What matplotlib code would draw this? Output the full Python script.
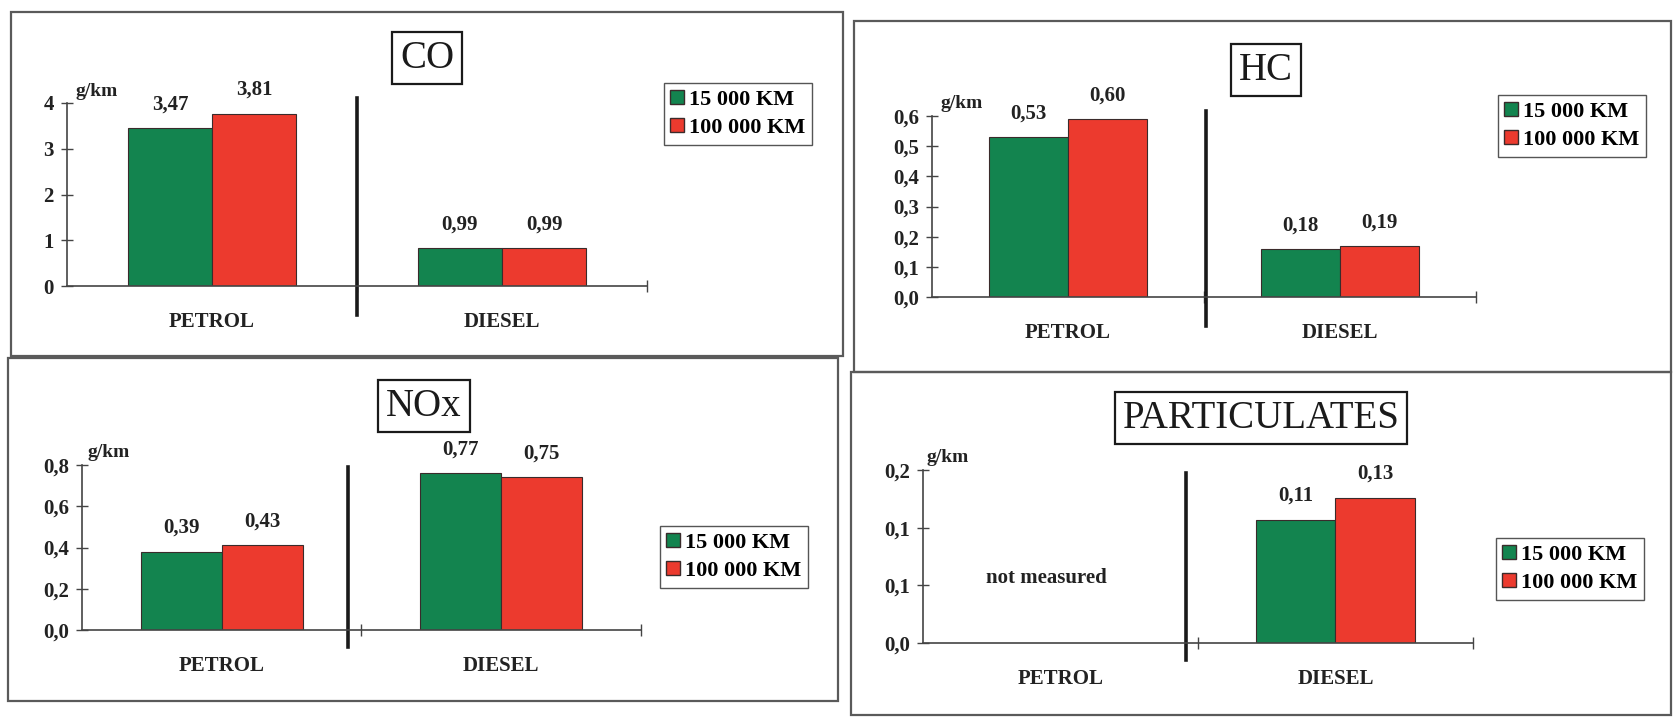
import numpy as np
import matplotlib
matplotlib.use("Agg")
import matplotlib.pyplot as plt
from matplotlib.patches import Patch, Rectangle

plt.rcParams["font.family"] = ["Liberation Serif", "DejaVu Serif"]

# --- dane ---
categories = ["PETROL", "DIESEL"]
series_names = ["15 000 KM", "100 000 KM"]

co_15k = [3.45, 0.83]
co_100k = [3.77, 0.82]
co_lab_15k = ["3,47", "0,99"]
co_lab_100k = ["3,81", "0,99"]

hc_15k = [0.53, 0.16]
hc_100k = [0.59, 0.17]
hc_lab_15k = ["0,53", "0,18"]
hc_lab_100k = ["0,60", "0,19"]

nox_15k = [0.38, 0.76]
nox_100k = [0.41, 0.74]
nox_lab_15k = ["0,39", "0,77"]
nox_lab_100k = ["0,43", "0,75"]

pm_15k = [np.nan, 0.107]
pm_100k = [np.nan, 0.126]
pm_lab_15k = [None, "0,11"]
pm_lab_100k = [None, "0,13"]

co_yticks = [0, 1, 2, 3, 4]
co_yticklabels = ["0", "1", "2", "3", "4"]
hc_yticks = [0, 0.1, 0.2, 0.3, 0.4, 0.5, 0.6]
hc_yticklabels = ["0,0", "0,1", "0,2", "0,3", "0,4", "0,5", "0,6"]
nox_yticks = [0, 0.2, 0.4, 0.6, 0.8]
nox_yticklabels = ["0,0", "0,2", "0,4", "0,6", "0,8"]
pm_yticks = [0, 0.05, 0.10, 0.15]
pm_yticklabels = ["0,0", "0,1", "0,1", "0,2"]

GREEN = "#13844f"
RED = "#ec3a2e"
EDGE = "#3a2b2b"

W, H = 1674, 721
fig = plt.figure(figsize=(W / 100, H / 100), dpi=100)


def px_rect(left, right, top, bottom):
    # piksele (od góry) -> współrzędne figury
    return [left / W, 1 - bottom / H, (right - left) / W, (bottom - top) / H]


# tło z ramkami paneli
bg = fig.add_axes([0, 0, 1, 1])
bg.set_xlim(0, W)
bg.set_ylim(H, 0)
bg.axis("off")
for (x0, y0, x1, y1) in [(11, 12, 843, 356), (854, 21, 1671, 372),
                         (8, 358, 838, 701), (851, 372, 1671, 715)]:
    bg.add_patch(Rectangle((x0, y0), x1 - x0, y1 - y0, fill=False,
                           edgecolor="#5a5a5a", linewidth=1.6))


def draw_panel(rect, title, title_xy, legend_xy, v15, v100, l15, l100,
               yticks, yticklabels, ylim, div_x, div_span, gkm_dx=30):
    ax = fig.add_axes(px_rect(*rect))
    x = np.arange(len(categories))
    w = 0.29
    ax.bar(x - w / 2, v15, w, color=GREEN, edgecolor=EDGE, linewidth=0.8)
    ax.bar(x + w / 2, v100, w, color=RED, edgecolor=EDGE, linewidth=0.8)

    # etykiety wartości nad słupkami
    for xi, v, lab in zip(x - w / 2, v15, l15):
        if lab:
            ax.annotate(lab, (xi, v), xytext=(0, 17), textcoords="offset points",
                        ha="center", va="center", fontsize=15, fontweight="bold",
                        color="#222222")
    for xi, v, lab in zip(x + w / 2, v100, l100):
        if lab:
            ax.annotate(lab, (xi, v), xytext=(0, 17), textcoords="offset points",
                        ha="center", va="center", fontsize=15, fontweight="bold",
                        color="#222222")

    ax.set_xlim(-0.5, 1.5)
    ax.set_ylim(*ylim)
    ax.set_yticks(yticks)
    ax.set_yticklabels(yticklabels, fontsize=15, fontweight="bold", color="#222222")
    ax.set_xticks(x)
    ax.set_xticklabels(categories, fontsize=15, fontweight="bold", color="#222222")
    ax.set_xticks([0.5, 1.5], minor=True)
    ax.tick_params(axis="x", which="major", length=0, pad=19)
    ax.tick_params(axis="x", which="minor", direction="inout", length=9,
                   width=1, color="#444444")
    ax.tick_params(axis="y", direction="inout", length=9, width=1,
                   color="#444444", pad=5)
    for side in ("top", "right"):
        ax.spines[side].set_visible(False)
    for side in ("left", "bottom"):
        ax.spines[side].set_color("#444444")
        ax.spines[side].set_linewidth(1.2)

    # pionowa linia oddzielająca PETROL / DIESEL
    ax.plot([div_x, div_x], div_span, color="#1a1a1a", linewidth=2.6,
            transform=ax.get_xaxis_transform(), clip_on=False)

    # jednostka
    ax.annotate("g/km", (0, 1), xycoords="axes fraction", xytext=(gkm_dx, 12),
                textcoords="offset pixels", ha="center", va="center",
                fontsize=14, fontweight="bold", color="#222222")

    # tytuł w ramce
    fig.text(title_xy[0] / W, 1 - title_xy[1] / H, title, ha="center", va="center",
             fontsize=28, color="#1a1a1a",
             bbox=dict(boxstyle="square,pad=0.2", facecolor="white",
                       edgecolor="#1a1a1a", linewidth=1.6))

    handles = [Patch(facecolor=GREEN, edgecolor=EDGE, label=series_names[0]),
               Patch(facecolor=RED, edgecolor=EDGE, label=series_names[1])]
    ax.legend(handles=handles, loc="center",
              bbox_to_anchor=(legend_xy[0] / W, 1 - legend_xy[1] / H),
              bbox_transform=fig.transFigure, prop=dict(size=16, weight="bold"),
              frameon=True, fancybox=False, edgecolor="#555555", framealpha=1,
              handlelength=0.6, handleheight=0.6, handletextpad=0.25,
              labelspacing=0.35, borderpad=0.3, borderaxespad=0)
    return ax


draw_panel((67, 647, 103, 286), "CO", (427, 58), (738, 114),
           co_15k, co_100k, co_lab_15k, co_lab_100k,
           co_yticks, co_yticklabels, (0, 4), 0.5, (1.03, -0.16))

draw_panel((932, 1476, 116, 297), "HC", (1266, 70), (1572, 126),
           hc_15k, hc_100k, hc_lab_15k, hc_lab_100k,
           hc_yticks, hc_yticklabels, (0, 0.6), 0.507, (1.03, -0.16))

draw_panel((82, 641, 465, 630), "NOx", (424, 406), (734, 557),
           nox_15k, nox_100k, nox_lab_15k, nox_lab_100k,
           nox_yticks, nox_yticklabels, (0, 0.8), 0.45, (0.99, -0.10), gkm_dx=27)

ax_pm = draw_panel((923, 1473, 470, 643), "PARTICULATES", (1261, 418), (1570, 569),
                   pm_15k, pm_100k, pm_lab_15k, pm_lab_100k,
                   pm_yticks, pm_yticklabels, (0, 0.15), 0.455, (0.98, -0.10), gkm_dx=25)
ax_pm.text(-0.05, 0.056, "not measured", ha="center", va="center",
           fontsize=15, fontweight="bold", color="#222222")

fig.savefig("out.png", dpi=100, facecolor="white")
